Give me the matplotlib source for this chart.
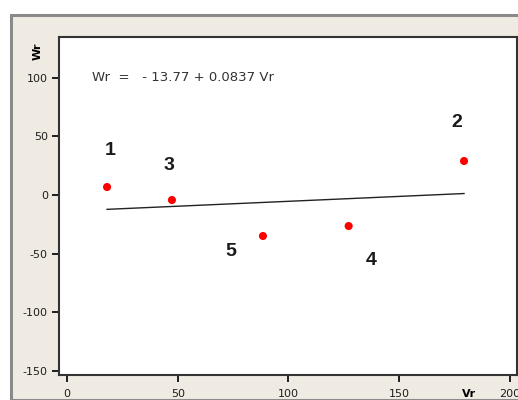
import numpy as np
import matplotlib.pyplot as plt
from matplotlib.patches import Rectangle

plt.rcParams["axes.unicode_minus"] = False

# Data
point_ids = ["1", "2", "3", "4", "5"]
vr = [18.1, 179.3, 47.4, 127.2, 88.5]
wr = [6.8, 29.0, -4.3, -26.5, -35.0]
intercept = -13.77
slope = 0.0837
x_ticks = [0, 50, 100, 150, 200]
y_ticks = [100, 50, 0, -50, -100, -150]

# label offsets (points) from each dot
label_offsets = {"1": (2, 26), "2": (-5, 28), "3": (-2, 25), "4": (16, -25), "5": (-23, -11)}

fig = plt.figure(figsize=(5.18, 4.0), dpi=100)
fig.patch.set_facecolor("white")

# beige panel around the plot
frame = Rectangle((11 / 518, 0), 1, 1 - 15 / 400, transform=fig.transFigure,
                  facecolor="#EFEBE2", edgecolor="#8a8a8a", linewidth=2.2, zorder=-10)
fig.patches.append(frame)

ax = fig.add_axes([59 / 518, 1 - 375 / 400, 457.5 / 518, 338 / 400])
ax.set_facecolor("white")

# regression line over the range of the data
xl = np.array([min(vr), max(vr)])
ax.plot(xl, intercept + slope * xl, color="#222222", lw=1.0, zorder=2)
ax.scatter(vr, wr, s=34, color="#ff0000", edgecolors="none", zorder=3)

for pid, x, y in zip(point_ids, vr, wr):
    ax.annotate(pid, (x, y), xytext=label_offsets[pid], textcoords="offset points",
                ha="center", va="center", fontsize=14, fontweight="bold",
                family="Liberation Sans", color="#1a1a1a")

ax.text(0.072, 0.88, "Wr  =   - 13.77 + 0.0837 Vr", transform=ax.transAxes,
        fontsize=9.5, va="center", ha="left", color="#333333")

ax.set_xlim(-3.6, 203.0)
ax.set_ylim(-153.6, 134.8)
ax.set_xticks(x_ticks)
ax.set_yticks(y_ticks)
ax.tick_params(axis="x", length=5, width=1.4, pad=5, labelsize=8, colors="#1e1e1e")
ax.tick_params(axis="y", length=5, width=1.4, pad=3, labelsize=8, colors="#1e1e1e")

for s in ax.spines.values():
    s.set_color("#333333")
    s.set_linewidth(1.5)

ax.set_ylabel("Wr", fontsize=8, fontweight="bold")
ax.yaxis.set_label_coords(-0.036, 0.959)
ax.set_xlabel("Vr", fontsize=8, fontweight="bold")
ax.xaxis.set_label_coords(0.896, -0.04)

fig.savefig("out.png", dpi=100)
